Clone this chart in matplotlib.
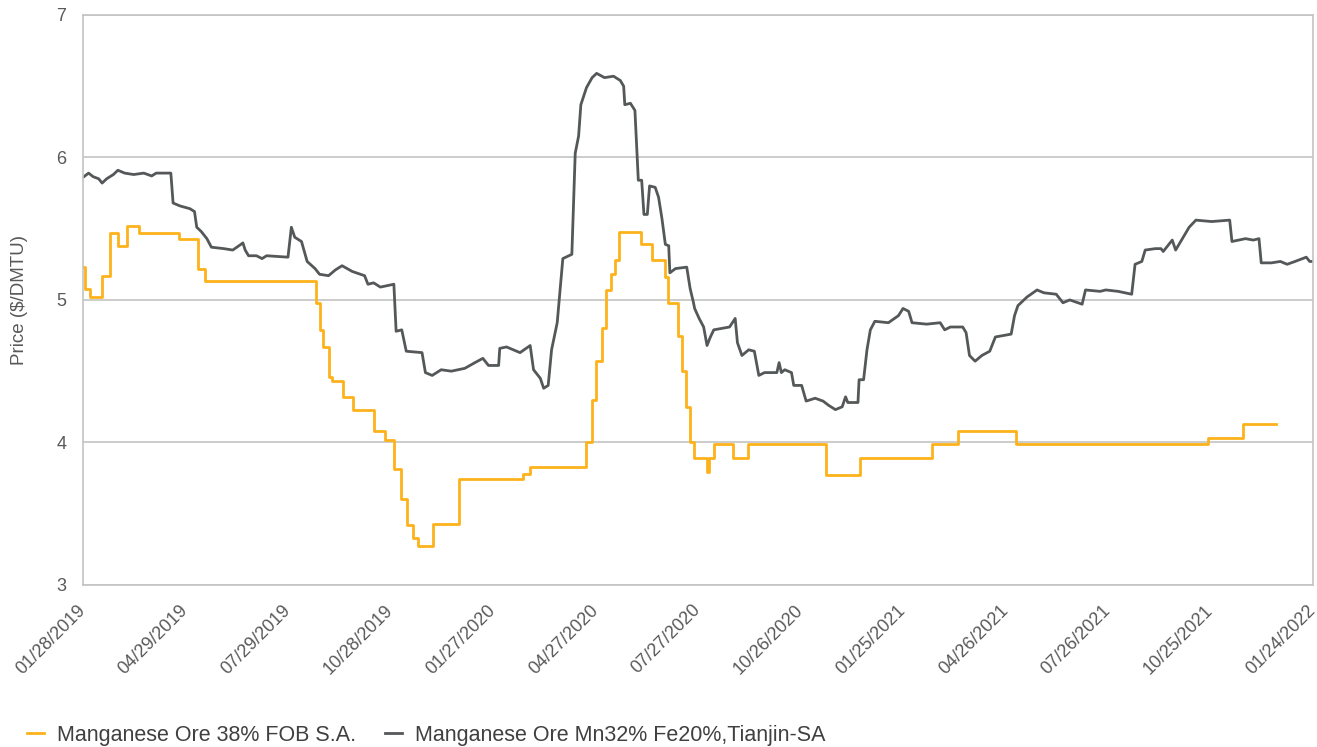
import numpy as np
import pandas as pd
import matplotlib
matplotlib.use("Agg")
import matplotlib.pyplot as plt
import matplotlib.dates as mdates
import matplotlib.transforms as mtransforms

plt.rcParams['font.family'] = ['Liberation Sans', 'DejaVu Sans']

# Series start date; all offsets below are days after it
START = "2019-01-28"
END = "2022-01-24"

# Manganese Ore 38% FOB S.A. (weekly assessments, stepped)
fob_days = [0, 2, 6, 17, 24, 31, 39, 50, 85, 102, 108, 207, 210, 213, 218, 221,
            231, 240, 258, 268, 276, 282, 288, 293, 297, 311, 334, 391, 397,
            447, 452, 455, 461, 464, 469, 472, 476, 495, 505, 517, 519, 528,
            532, 535, 539, 542, 554, 556, 560, 577, 590, 660, 690, 754, 777,
            828, 999, 1030, 1059]
fob_price = [5.23, 5.08, 5.02, 5.17, 5.47, 5.38, 5.52, 5.47, 5.43, 5.22, 5.13,
             4.98, 4.79, 4.67, 4.46, 4.43, 4.32, 4.23, 4.08, 4.02, 3.81, 3.60,
             3.42, 3.33, 3.27, 3.43, 3.74, 3.78, 3.83, 4.00, 4.30, 4.57, 4.80,
             5.07, 5.18, 5.28, 5.48, 5.39, 5.28, 5.16, 4.98, 4.75, 4.50, 4.25,
             4.00, 3.89, 3.79, 3.89, 3.99, 3.89, 3.99, 3.77, 3.89, 3.99, 4.08,
             3.99, 4.03, 4.13, 4.13]

# Manganese Ore Mn32% Fe20%, Tianjin-SA
tj_days = [0, 5, 9, 14, 17, 21, 27, 31, 37, 45, 54, 61, 65, 78, 80, 86, 95, 99,
           101, 105, 110, 114, 125, 133, 142, 144, 147, 154, 159, 163, 182,
           185, 188, 194, 199, 206, 210, 218, 224, 230, 239, 250, 253, 258,
           264, 276, 278, 283, 287, 301, 304, 310, 318, 327, 339, 348, 355,
           360, 369, 370, 376, 388, 397, 400, 406, 409, 413, 416, 421, 423,
           426, 434, 437, 440, 442, 447, 452, 456, 463, 471, 477, 480, 481,
           486, 490, 493, 496, 498, 501, 503, 508, 511, 514, 517, 520, 521,
           526, 536, 539, 542, 543, 547, 551, 554, 557, 560, 567, 574, 579,
           581, 585, 591, 596, 600, 605, 616, 618, 620, 623, 629, 631, 638,
           642, 650, 657, 662, 668, 674, 677, 679, 688, 689, 693, 696, 699,
           703, 715, 724, 728, 733, 736, 749, 761, 765, 770, 781, 784, 787,
           792, 798, 805, 810, 824, 827, 830, 838, 847, 853, 864, 870, 876,
           887, 890, 903, 908, 919, 931, 934, 940, 943, 952, 957, 959, 967,
           970, 982, 988, 1002, 1018, 1020, 1032, 1039, 1044, 1046, 1055,
           1063, 1069, 1076, 1086, 1089, 1092]
tj_price = [5.86, 5.89, 5.865, 5.85, 5.82, 5.85, 5.88, 5.91, 5.89, 5.88, 5.89,
            5.87, 5.89, 5.89, 5.68, 5.66, 5.64, 5.62, 5.51, 5.48, 5.43, 5.37,
            5.36, 5.35, 5.40, 5.35, 5.31, 5.31, 5.29, 5.31, 5.30, 5.51, 5.44,
            5.41, 5.27, 5.22, 5.18, 5.17, 5.21, 5.24, 5.20, 5.17, 5.11, 5.12,
            5.09, 5.11, 4.78, 4.79, 4.64, 4.63, 4.49, 4.47, 4.51, 4.50, 4.52,
            4.56, 4.59, 4.54, 4.54, 4.66, 4.67, 4.63, 4.68, 4.51, 4.45, 4.38,
            4.40, 4.65, 4.84, 5.02, 5.29, 5.32, 6.03, 6.15, 6.37, 6.49, 6.56,
            6.59, 6.56, 6.57, 6.54, 6.50, 6.37, 6.38, 6.33, 5.84, 5.84, 5.60,
            5.60, 5.80, 5.79, 5.72, 5.57, 5.39, 5.38, 5.19, 5.22, 5.23, 5.08,
            4.98, 4.94, 4.87, 4.81, 4.68, 4.74, 4.79, 4.80, 4.81, 4.87, 4.70,
            4.61, 4.65, 4.64, 4.47, 4.49, 4.49, 4.56, 4.49, 4.51, 4.49, 4.40,
            4.40, 4.29, 4.31, 4.29, 4.26, 4.23, 4.25, 4.32, 4.28, 4.28, 4.44,
            4.44, 4.65, 4.79, 4.85, 4.84, 4.89, 4.94, 4.92, 4.84, 4.83, 4.84,
            4.79, 4.81, 4.81, 4.77, 4.61, 4.57, 4.61, 4.64, 4.74, 4.76, 4.89,
            4.96, 5.02, 5.07, 5.05, 5.04, 4.98, 5.00, 4.97, 5.07, 5.06, 5.07,
            5.06, 5.04, 5.25, 5.27, 5.35, 5.36, 5.36, 5.34, 5.42, 5.35, 5.51,
            5.56, 5.55, 5.56, 5.41, 5.43, 5.42, 5.43, 5.26, 5.26, 5.27, 5.25,
            5.27, 5.30, 5.27, 5.27]

LABEL_FOB = "Manganese Ore 38% FOB S.A."
LABEL_TJ = "Manganese Ore Mn32% Fe20%,Tianjin-SA"

start = pd.Timestamp(START)
fob_dates = start + pd.to_timedelta(fob_days, unit='D')
tj_dates = start + pd.to_timedelta(tj_days, unit='D')

# quarterly ticks, every 13 weeks
tick_dates = pd.date_range(START, END, freq='91D')

fig = plt.figure(figsize=(13.17, 7.47), dpi=100)
ax = fig.add_axes([0.063, 0.217, 0.934, 0.763])

ax.plot(fob_dates, fob_price, color='#FDB21B', linewidth=2.0,
        drawstyle='steps-post', label=LABEL_FOB)
ax.plot(tj_dates, tj_price, color='#545859', linewidth=2.0, label=LABEL_TJ)

ax.set_xlim(start, pd.Timestamp(END))
ax.set_ylim(3, 7)
ax.set_yticks([3, 4, 5, 6, 7])
ax.set_xticks(tick_dates)
ax.xaxis.set_major_formatter(mdates.DateFormatter('%m/%d/%Y'))

ax.grid(axis='y', color='#c4c4c4', linewidth=1.2)
ax.set_axisbelow(True)
for side in ['left', 'right', 'top', 'bottom']:
    ax.spines[side].set_color('#c4c4c4')
    ax.spines[side].set_linewidth(1.2)

ax.tick_params(axis='both', length=0, colors='#595959', labelsize=13)
ax.tick_params(axis='y', pad=12)
ax.tick_params(axis='x', pad=12)

# nudge the rotated date labels a little to the left
shift = mtransforms.ScaledTranslation(-6 / 100, 0, fig.dpi_scale_trans)
for lbl in ax.get_xticklabels():
    lbl.set_rotation(45)
    lbl.set_ha('right')
    lbl.set_rotation_mode('anchor')
    lbl.set_transform(lbl.get_transform() + shift)

ax.set_ylabel('Price ($/DMTU)', fontsize=13.5, color='#595959', labelpad=20)

fig.legend(loc='lower left', bbox_to_anchor=(0.006, -0.024), ncol=2,
           frameon=False, fontsize=15.5, handlelength=0.8, handletextpad=0.6,
           columnspacing=1.3, labelcolor='#404040')

fig.savefig('out.png', dpi=100)
